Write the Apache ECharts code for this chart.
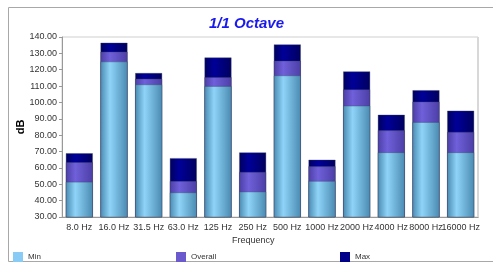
<!DOCTYPE html>
<html>
<head>
<meta charset="utf-8">
<script src="https://cdn.jsdelivr.net/npm/echarts@6/dist/echarts.min.js"></script>
<style>
  html, body { margin: 0; padding: 0; background: #fff; }
  #chart { width: 493px; height: 263px; }
</style>
</head>
<body>
<div id="chart"></div>
<script>
var categories = ['8.0 Hz', '16.0 Hz', '31.5 Hz', '63.0 Hz', '125 Hz', '250 Hz', '500 Hz', '1000 Hz', '2000 Hz', '4000 Hz', '8000 Hz', '16000 Hz'];
var minVals = [51.5, 125, 111, 45, 110, 45.5, 116.5, 52, 98, 69.5, 88, 69.5];
var overallVals = [63.5, 131, 114.5, 52, 115.5, 57.5, 125.5, 61, 108, 83, 100.5, 82];
var maxVals = [69, 136.5, 118, 66, 127.5, 69.5, 135.5, 65, 119, 92.5, 107.5, 95];

var chart = echarts.init(document.getElementById('chart'));

// horizontal gradient to mimic the cylinder shading
function shade(edge, mid) {
  return new echarts.graphic.LinearGradient(0, 0, 1, 0, [
    { offset: 0, color: edge },
    { offset: 0.35, color: mid },
    { offset: 1, color: edge }
  ]);
}

function barSeries(name, data, edge, mid) {
  return {
    name: name,
    type: 'bar',
    data: data,
    barGap: '-100%',
    barCategoryGap: '22%',
    itemStyle: {
      color: shade(edge, mid),
      borderColor: 'rgba(60,70,90,0.6)',
      borderWidth: 0.6
    }
  };
}

var font = 'Liberation Sans, Arial, sans-serif';

var option = {
  animation: false,
  title: {
    text: '1/1 Octave',
    left: 'center',
    top: 11,
    textStyle: { fontFamily: font, fontSize: 15, fontWeight: 'bold', fontStyle: 'italic', color: '#1a1aee' }
  },
  grid: {
    left: 62, right: 15, top: 37, bottom: 46,
    show: true, borderColor: '#cfcfcf', borderWidth: 1, backgroundColor: '#fff'
  },
  legend: [
    { data: [{ name: 'Min', itemStyle: { color: '#88ccf5', borderWidth: 0 } }], left: 13, top: 252 },
    { data: [{ name: 'Overall', itemStyle: { color: '#6a5acd', borderWidth: 0 } }], left: 176, top: 252 },
    { data: [{ name: 'Max', itemStyle: { color: '#000088', borderWidth: 0 } }], left: 340, top: 252 }
  ].map(function (l) {
    l.icon = 'rect';
    l.itemWidth = 10;
    l.itemHeight = 10;
    l.itemGap = 5;
    l.padding = 0;
    l.textStyle = { fontFamily: font, fontSize: 8, color: '#333' };
    return l;
  }),
  xAxis: {
    type: 'category',
    data: categories,
    axisLine: { lineStyle: { color: '#999' } },
    axisTick: { alignWithLabel: true, length: 3, lineStyle: { color: '#999' } },
    axisLabel: { interval: 0, fontFamily: font, fontSize: 9, color: '#333', margin: 6 }
  },
  yAxis: {
    type: 'value',
    min: 30, max: 140, interval: 10,
    name: 'dB',
    nameLocation: 'middle',
    nameGap: 36,
    nameMoveOverlap: false,
    nameRotate: 90,
    nameTextStyle: { fontFamily: font, fontSize: 11, fontWeight: 'bold', color: '#000' },
    splitLine: { show: false },
    axisLine: { show: true, lineStyle: { color: '#999' } },
    axisTick: { show: true, length: 3, lineStyle: { color: '#999' } },
    axisLabel: {
      fontFamily: font, fontSize: 9, color: '#333', margin: 5,
      formatter: function (v) { return v.toFixed(2); }
    }
  },
  graphic: [
    { type: 'rect', shape: { x: 8.5, y: 7.5, width: 500, height: 254 }, style: { fill: 'none', stroke: '#a8a8a8', lineWidth: 1 }, z: -1 },
    { type: 'rect', shape: { x: 477, y: 37, width: 2, height: 181 }, style: { fill: '#d8d8d8' } },
    { type: 'text', left: 232, top: 236, style: { text: 'Frequency', fontFamily: font, fontSize: 9, fill: '#333' } }
  ],
  series: [
    barSeries('Max', maxVals, '#00005e', '#000099'),
    barSeries('Overall', overallVals, '#4c3ea6', '#7060da'),
    barSeries('Min', minVals, '#4a8ab2', '#8fd4f8')
  ]
};

chart.setOption(option);
</script>
</body>
</html>
